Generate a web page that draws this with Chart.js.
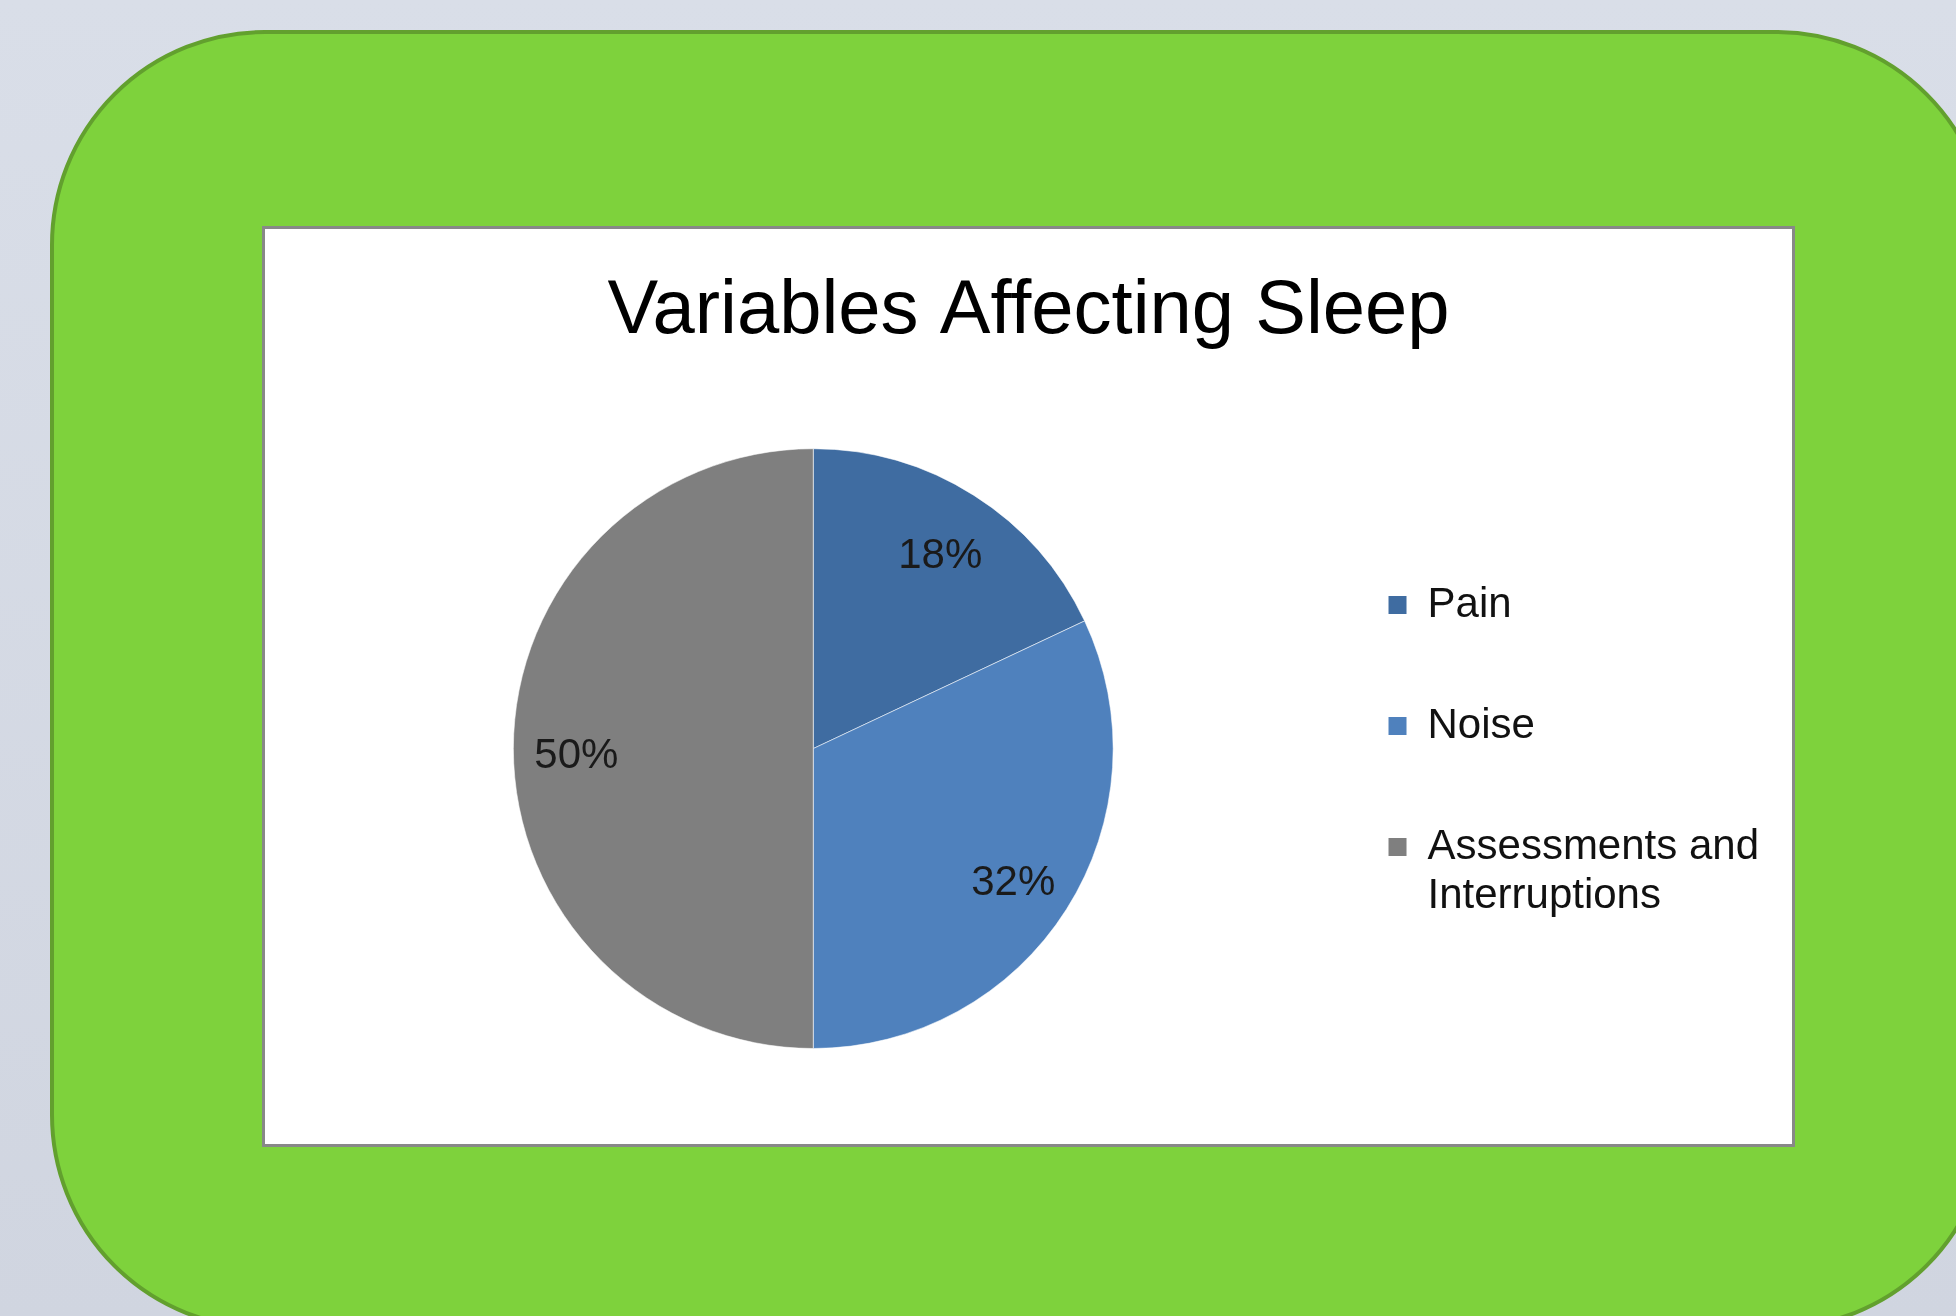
<!DOCTYPE html>
<html>
<head>
<meta charset="utf-8">
<title>Variables Affecting Sleep</title>
<script src="https://cdn.jsdelivr.net/npm/chart.js@4"></script>
<style>
  html, body {
    margin: 0;
    padding: 0;
    width: 1956px;
    height: 1316px;
    overflow: hidden;
    background: linear-gradient(#d9dee8, #d0d5e0);
  }
  #panel {
    position: absolute;
    left: 50px;
    top: 30px;
    width: 1941px;
    height: 1300px;
    box-sizing: border-box;
    border: 4px solid #62a02e;
    border-radius: 215px;
    background: #7ed23c;
  }
  #frame {
    position: absolute;
    left: 262px;
    top: 226px;
    width: 1533px;
    height: 921px;
    box-sizing: border-box;
    border: 3px solid #888888;
    background: #ffffff;
  }
  #wrap {
    position: absolute;
    left: 265px;
    top: 229px;
    width: 1527px;
    height: 915px;
  }
</style>
</head>
<body>
<div id="panel"></div>
<div id="frame"></div>
<div id="wrap"><canvas id="chart"></canvas></div>
<script>
// data
const categories = ['Pain', 'Noise', ['Assessments and', 'Interruptions']];
const shares = [18, 32, 50];
const sliceColors = ['#3f6ca1', '#4f81bd', '#7f7f7f'];

const FONT = "'Liberation Sans', Arial, sans-serif";

// keep the title centred on the whole canvas, not on the padded area
const centreTitle = {
  id: 'centreTitle',
  afterLayout(chart) {
    const t = chart.titleBlock;
    if (!t) return;
    t.left = 0;
    t.right = chart.width;
    t.width = chart.width;
  }
};

// percent labels inside the slices
const pctLabels = {
  id: 'pctLabels',
  afterDatasetsDraw(chart) {
    const ctx = chart.ctx;
    const meta = chart.getDatasetMeta(0);
    ctx.save();
    ctx.font = '42px ' + FONT;
    ctx.fillStyle = '#1a1a1a';
    ctx.textAlign = 'center';
    ctx.textBaseline = 'middle';
    meta.data.forEach((arc, i) => {
      const p = arc.getProps(['x', 'y', 'startAngle', 'endAngle', 'outerRadius'], true);
      const mid = (p.startAngle + p.endAngle) / 2;
      const d = p.outerRadius * 0.79;
      ctx.fillText(shares[i] + '%', p.x + Math.cos(mid) * d, p.y + Math.sin(mid) * d + 8);
    });
    ctx.restore();
  }
};

const ctx = document.getElementById('chart');

new Chart(ctx, {
  type: 'pie',
  data: {
    labels: categories,
    datasets: [{
      data: shares,
      backgroundColor: sliceColors,
      borderColor: 'rgba(255, 255, 255, 0.55)',
      borderWidth: 1,
      hoverBorderWidth: 1
    }]
  },
  options: {
    responsive: true,
    maintainAspectRatio: false,
    animation: false,
    layout: {
      padding: { left: 52, right: 23, top: 0, bottom: 95 }
    },
    plugins: {
      title: {
        display: true,
        text: 'Variables Affecting Sleep',
        color: '#000000',
        font: { family: FONT, size: 76, weight: 'normal', lineHeight: 1.2 },
        padding: { top: 37, bottom: 91 }
      },
      legend: {
        position: 'right',
        fullSize: false,
        title: {
          display: true,
          text: ' ',
          font: { size: 10, lineHeight: 1.13 },
          padding: 0
        },
        labels: {
          color: '#111111',
          boxWidth: 18,
          boxHeight: 18,
          padding: 79,
          font: { family: FONT, size: 42, lineHeight: 1.17 },
          generateLabels(chart) {
            const items = Chart.overrides.pie.plugins.legend.labels.generateLabels(chart);
            return items.map(it => Object.assign(it, { lineWidth: 0 }));
          }
        }
      },
      tooltip: { enabled: false }
    }
  },
  plugins: [centreTitle, pctLabels]
});
</script>
</body>
</html>
